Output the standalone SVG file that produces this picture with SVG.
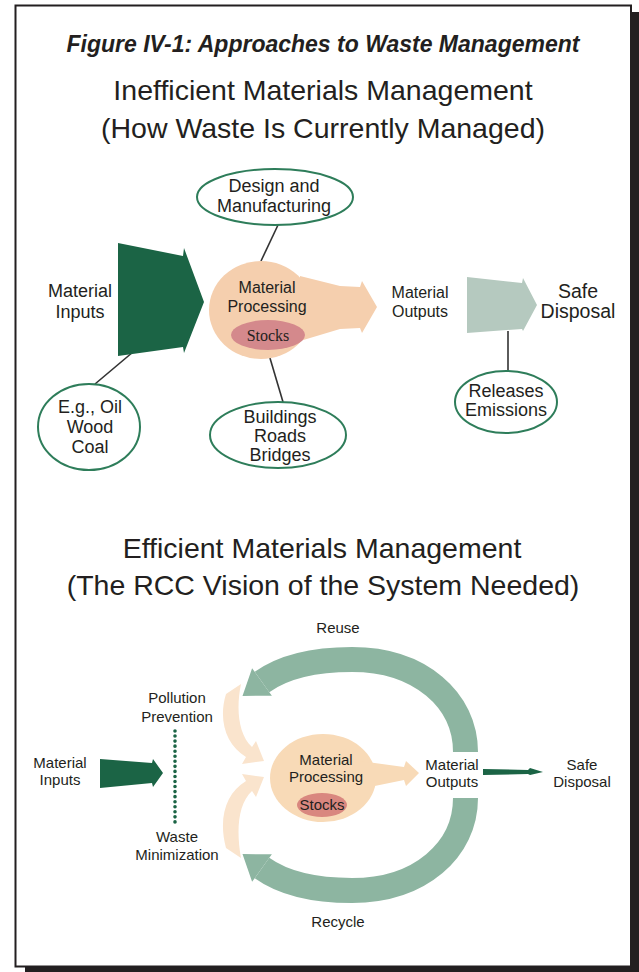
<svg xmlns="http://www.w3.org/2000/svg" width="639" height="972" viewBox="0 0 639 972">
<style>
text{font-family:"Liberation Sans",Arial,sans-serif;fill:#231f20;text-anchor:middle}
.t{font-size:23px;font-weight:bold;font-style:italic}
.h{font-size:28.5px}
.l{font-size:18px}
.m{font-size:16px}
.s{font-size:15px}
.ser{font-family:"Liberation Serif","Times New Roman",serif;font-size:16px}
.oval{fill:#fff;stroke:#2e7d5a;stroke-width:2}
.conn{stroke:#333;stroke-width:1.6;fill:none}
.dk{fill:#1b6445}
.band{fill:none;stroke:#8db5a1;stroke-width:25}
.bandh{fill:#8db5a1}
.lo{fill:#fae4cd}
</style>
<rect width="639" height="972" fill="#fff"/>
<g id="frame">
<rect x="632" y="12" width="7" height="960" fill="#231f20"/>
<rect x="25" y="967" width="614" height="5" fill="#231f20"/>
<rect x="15.5" y="5.5" width="615.5" height="961" fill="none" stroke="#231f20" stroke-width="2"/>
</g>
<g id="titles">
<text class="t" x="323" y="52">Figure IV-1: Approaches to Waste Management</text>
<text class="h" x="323" y="100">Inefficient Materials Management</text>
<text class="h" x="323" y="138">(How Waste Is Currently Managed)</text>
<text class="h" x="322" y="558">Efficient Materials Management</text>
<text class="h" x="323" y="595">(The RCC Vision of the System Needed)</text>
</g>
<g id="connectors">
<line class="conn" x1="278" y1="225" x2="261" y2="261"/>
<line class="conn" x1="95" y1="384" x2="133" y2="352"/>
<line class="conn" x1="267" y1="348" x2="283" y2="402"/>
<line class="conn" x1="508" y1="331" x2="508" y2="372"/>
<polygon class="dk" points="483,769 528,770 530,768 543,772 530,775 528,774 483,775"/>
<line x1="175" y1="731" x2="175" y2="822" stroke="#1b6445" stroke-width="3.6" stroke-linecap="round" stroke-dasharray="0 5.05"/>
</g>
<g id="upper-inputs">
<polygon class="dk" points="118,243 183,256 184,248 204,302 184,353 183,347 118,356"/>
<text class="l" x="80" y="297">Material</text>
<text class="l" x="80" y="318">Inputs</text>
</g>
<g id="upper-processing">
<ellipse cx="261" cy="310" rx="52" ry="49" fill="#f5cfae"/>
<polygon points="300,276 340,286 360,287 362,281 377,307 362,333 360,328 340,329 300,341" fill="#f5cfae"/>
<ellipse cx="268" cy="335" rx="37" ry="15" fill="#d4898c"/>
<text class="m" x="267" y="293">Material</text>
<text class="m" x="267" y="312">Processing</text>
<text class="ser" x="268" y="341">Stocks</text>
</g>
<g id="design">
<ellipse class="oval" cx="275" cy="197" rx="78" ry="28"/>
<text class="l" x="274" y="192">Design and</text>
<text class="l" x="274" y="212">Manufacturing</text>
</g>
<g id="eg">
<ellipse class="oval" cx="89" cy="427" rx="51" ry="43"/>
<text class="l" x="90" y="413">E.g., Oil</text>
<text class="l" x="90" y="433">Wood</text>
<text class="l" x="90" y="453">Coal</text>
</g>
<g id="buildings">
<ellipse class="oval" cx="278" cy="435" rx="68" ry="33"/>
<text class="l" x="280" y="423">Buildings</text>
<text class="l" x="280" y="442">Roads</text>
<text class="l" x="280" y="461">Bridges</text>
</g>
<g id="upper-outputs">
<text class="m" x="420" y="298">Material</text>
<text class="m" x="420" y="317">Outputs</text>
</g>
<g id="upper-disposal">
<polygon points="467,277 522,283 523,278 537,305 523,331 522,329 467,333" fill="#b5c9bf"/>
<text class="l" x="578" y="298" style="font-size:19.5px">Safe</text>
<text class="l" x="578" y="318" style="font-size:19.5px">Disposal</text>
</g>
<g id="releases">
<ellipse class="oval" cx="506" cy="402" rx="51" ry="31"/>
<text class="l" x="506" y="397">Releases</text>
<text class="l" x="506" y="416">Emissions</text>
</g>
<g id="reuse">
<path class="band" d="M465.5,752 C465.5,700 420,659.5 352,659.5 C312,659.5 283,667 262,682"/>
<polygon class="bandh" points="254.7,671.8 252.1,668.2 242.5,695.9 271.9,695.8 269.3,692.2"/>
<text class="s" x="338" y="633">Reuse</text>
</g>
<g id="recycle">
<g transform="translate(0,1550) scale(1,-1)">
<path class="band" d="M465.5,752 C465.5,700 420,659.5 352,659.5 C312,659.5 283,667 262,682"/>
<polygon class="bandh" points="254.7,671.8 252.1,668.2 242.5,695.9 271.9,695.8 269.3,692.2"/>
</g>
<text class="s" x="338" y="927">Recycle</text>
</g>
<g id="pollution-prevention">
<path class="lo" d="M226,694 C218,720 226,745 246,757 L242,764 L264,761 L256,741 L252,747 C238,734 236,708 241,684 Z"/>
<text class="s" x="177" y="703">Pollution</text>
<text class="s" x="177" y="722">Prevention</text>
</g>
<g id="waste-minimization">
<path class="lo" d="M226,848 C218,818 226,793 246,781 L242,774 L264,777 L256,797 L252,791 C238,804 236,830 241,858 Z"/>
<text class="s" x="177" y="842">Waste</text>
<text class="s" x="177" y="860">Minimization</text>
</g>
<g id="lower-inputs">
<polygon class="dk" points="100,759 152,763 153,759 163,773 153,787 152,783 100,788"/>
<text class="s" x="60" y="768">Material</text>
<text class="s" x="60" y="785">Inputs</text>
</g>
<g id="lower-processing">
<ellipse cx="323" cy="778" rx="53" ry="44" fill="#f8dab7"/>
<polygon points="360,761 404,767 406,761 419,773 406,786 404,780 360,789" fill="#f8dab7"/>
<ellipse cx="322" cy="805" rx="25" ry="12" fill="#d9877f"/>
<text class="s" x="326" y="765">Material</text>
<text class="s" x="326" y="782">Processing</text>
<text class="s" x="322" y="810">Stocks</text>
</g>
<g id="lower-outputs">
<text class="s" x="452" y="770">Material</text>
<text class="s" x="452" y="787">Outputs</text>
</g>
<g id="lower-disposal">
<text class="s" x="582" y="770">Safe</text>
<text class="s" x="582" y="787">Disposal</text>
</g>
</svg>
